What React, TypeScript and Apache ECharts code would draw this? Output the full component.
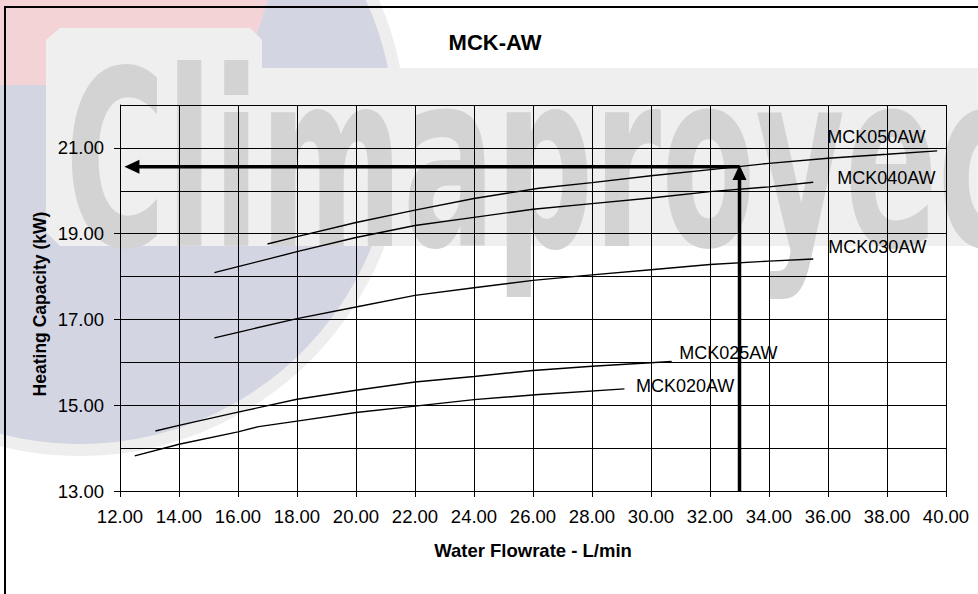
import React, { useEffect, useRef } from "react";
import * as echarts from "echarts";

// ---- data ----
const seriesNames = ["MCK050AW", "MCK040AW", "MCK030AW", "MCK025AW", "MCK020AW"];

const flow050 = [17.0, 18.0, 20.0, 22.0, 24.0, 26.2, 28.0, 30.0, 32.1, 34.0, 36.0, 38.0, 39.7];
const cap050 = [18.76, 18.93, 19.26, 19.55, 19.82, 20.06, 20.19, 20.35, 20.5, 20.64, 20.76, 20.85, 20.93];

const flow040 = [15.2, 16.0, 18.0, 20.0, 22.0, 24.0, 26.0, 28.0, 30.0, 32.0, 34.0, 35.5];
const cap040 = [18.09, 18.23, 18.58, 18.91, 19.19, 19.38, 19.57, 19.7, 19.83, 19.98, 20.09, 20.2];

const flow030 = [15.2, 16.0, 18.0, 20.0, 22.0, 24.0, 26.0, 28.0, 30.0, 32.0, 34.0, 35.5];
const cap030 = [16.57, 16.7, 17.02, 17.29, 17.56, 17.74, 17.91, 18.04, 18.16, 18.28, 18.36, 18.41];

const flow025 = [13.2, 14.0, 16.0, 18.0, 20.0, 22.0, 24.0, 26.0, 28.0, 30.7];
const cap025 = [14.4, 14.53, 14.84, 15.14, 15.35, 15.54, 15.67, 15.81, 15.91, 16.02];

const flow020 = [12.5, 14.0, 16.0, 16.7, 18.0, 20.0, 22.0, 24.0, 26.2, 29.1];
const cap020 = [13.82, 14.09, 14.38, 14.5, 14.63, 14.83, 14.98, 15.13, 15.25, 15.38];

const allFlows = [flow050, flow040, flow030, flow025, flow020];
const allCaps = [cap050, cap040, cap030, cap025, cap020];

// reading arrows: [fromX, fromY, toX(tip), toY(tip)]
const arrowFromX = [33.0, 33.0];
const arrowFromY = [13.0, 20.56];
const arrowToX = [33.0, 12.15];
const arrowToY = [20.6, 20.56];

const yLabelValues = [13, 15, 17, 19, 21];

const title = "MCK-AW";
const xName = "Water Flowrate - L/min";
const yName = "Heating Capacity (kW)";
const watermark = "Climaproyec";

// end-label offsets (styling only)
const labelOffsets: number[][] = [
  [-115, -14],
  [19, -4],
  [10, -12],
  [2.5, -8.5],
  [6.5, -2.7],
];

const FONT = "'Liberation Sans', Arial, sans-serif";

export default function App() {
  const ref = useRef<HTMLDivElement>(null);

  useEffect(() => {
    document.body.style.margin = "0";
    const chart = echarts.init(ref.current!, null, { renderer: "svg" });

    const lineSeries = seriesNames.map((name, s) => ({
      name,
      type: "line",
      xAxisIndex: 0,
      yAxisIndex: 0,
      data: allFlows[s].map((f, i) => [f, allCaps[s][i]]),
      showSymbol: false,
      symbol: "none",
      lineStyle: { color: "#000", width: 1.4 },
      z: 5,
      endLabel: {
        show: true,
        formatter: "{a}",
        distance: 5,
        offset: labelOffsets[s],
        color: "#000",
        fontFamily: FONT,
        fontSize: 18,
        align: "left",
        verticalAlign: "middle",
      },
    }));

    const arrowData = arrowFromX.map((x, i) => [x, arrowFromY[i], arrowToX[i], arrowToY[i]]);

    const option: any = {
      animation: false,
      backgroundColor: "#fff",
      title: {
        text: title,
        left: 495,
        top: 31,
        padding: 0,
        textAlign: "center",
        textStyle: { fontFamily: FONT, fontSize: 22, fontWeight: "bold", color: "#000" },
      },
      grid: { left: 120, right: 32, top: 105, bottom: 103, containLabel: false },
      xAxis: {
        type: "value",
        min: 12,
        max: 40,
        interval: 2,
        name: xName,
        nameLocation: "middle",
        nameGap: 50,
        nameTextStyle: { fontFamily: FONT, fontSize: 18.5, fontWeight: "bold", color: "#000" },
        axisLine: { show: true, onZero: false, lineStyle: { color: "#000", width: 1 } },
        axisTick: { show: true, length: 6, inside: false, lineStyle: { color: "#000" } },
        axisLabel: {
          formatter: (v: number) => v.toFixed(2),
          fontFamily: FONT,
          fontSize: 18.5,
          color: "#000",
          margin: 16,
        },
        splitLine: { show: true, lineStyle: { color: "#000", width: 1 } },
      },
      yAxis: [
        {
          type: "value",
          min: 13,
          max: 22,
          interval: 1,
          position: "left",
          name: yName,
          nameLocation: "middle",
          nameGap: 71,
          nameTextStyle: {
            fontFamily: FONT,
            fontSize: 17.5,
            fontWeight: "bold",
            color: "#000",
            padding: [0, 12, 0, 0],
          },
          axisLine: { show: true, onZero: false, lineStyle: { color: "#000", width: 1 } },
          axisTick: { show: false },
          axisLabel: { show: false },
          splitLine: { show: true, lineStyle: { color: "#000", width: 1 } },
        },
        {
          type: "value",
          min: 13,
          max: 22,
          interval: 2,
          position: "left",
          axisLine: { show: false },
          axisTick: { show: true, length: 6, lineStyle: { color: "#000" }, customValues: yLabelValues },
          axisLabel: {
            customValues: yLabelValues,
            formatter: (v: number) => v.toFixed(2),
            fontFamily: FONT,
            fontSize: 18.5,
            color: "#000",
            margin: 16,
          },
          splitLine: { show: false },
        },
      ],
      series: [
        ...lineSeries,
        {
          type: "custom",
          name: "arrows",
          xAxisIndex: 0,
          yAxisIndex: 0,
          z: 6,
          clip: false,
          encode: { x: [0, 2], y: [1, 3] },
          data: arrowData,
          renderItem: (_p: any, api: any) => {
            const p1 = api.coord([api.value(0), api.value(1)]);
            const p2 = api.coord([api.value(2), api.value(3)]);
            const dx = p2[0] - p1[0];
            const dy = p2[1] - p1[1];
            const len = Math.hypot(dx, dy) || 1;
            const ux = dx / len;
            const uy = dy / len;
            const headLen = 15;
            const headHalf = 7;
            const bx = p2[0] - ux * headLen;
            const by = p2[1] - uy * headLen;
            return {
              type: "group",
              children: [
                {
                  type: "line",
                  shape: { x1: p1[0], y1: p1[1], x2: bx + ux * 1, y2: by + uy * 1 },
                  style: { stroke: "#000", lineWidth: 3.5 },
                },
                {
                  type: "polygon",
                  shape: {
                    points: [
                      [p2[0], p2[1]],
                      [bx - uy * headHalf, by + ux * headHalf],
                      [bx + uy * headHalf, by - ux * headHalf],
                    ],
                  },
                  style: { fill: "#000" },
                },
              ],
            };
          },
        },
      ],
      graphic: [
        {
          type: "circle",
          silent: true,
          z: -30,
          shape: { cx: 80, cy: 130, r: 320 },
          style: { fill: "#d4d5e3", stroke: "#eeeeee", lineWidth: 12 },
        },
        {
          type: "polygon",
          silent: true,
          z: -29,
          shape: { points: [[0, 0], [268, 0], [240, 85], [0, 85]] },
          style: { fill: "#f4d3d7" },
        },
        {
          type: "polygon",
          silent: true,
          z: -25,
          shape: {
            points: [
              [46, 40], [60, 28], [250, 28], [262, 40], [262, 68], [978, 68],
              [978, 246], [60, 246], [46, 232],
            ],
          },
          style: { fill: "#efefef" },
        },
        {
          type: "text",
          silent: true,
          x: 65,
          y: 161,
          scaleX: 0.56,
          scaleY: 1,
          z: -20,
          style: {
            text: watermark,
            fontSize: 245,
            fontWeight: "bold",
            fontFamily: "'DejaVu Sans'",
            fill: "#d3d3d3",
            align: "left",
            verticalAlign: "middle",
          },
        },
        {
          type: "rect",
          silent: true,
          z: 100,
          shape: { x: 5, y: 7, width: 1200, height: 1200 },
          style: { fill: "none", stroke: "#000", lineWidth: 2 },
        },
      ],
    };

    chart.setOption(option);
    return () => chart.dispose();
  }, []);

  return <div ref={ref} style={{ width: 978, height: 594 }} />;
}
